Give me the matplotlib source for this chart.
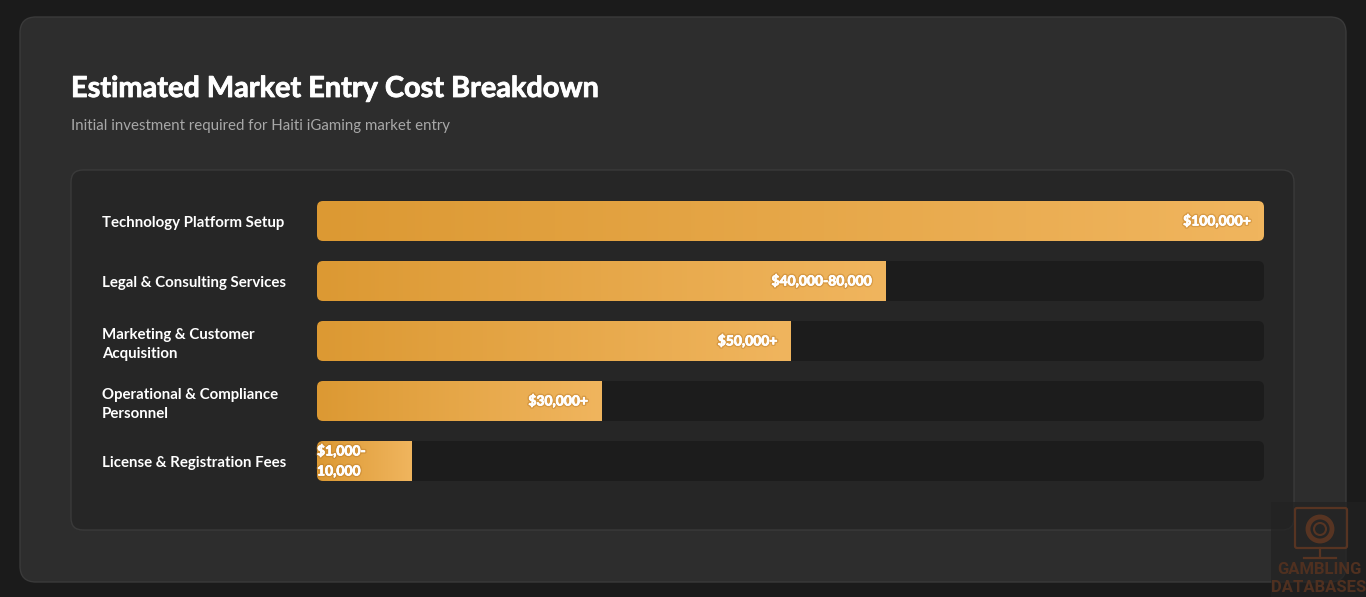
import matplotlib
matplotlib.use('Agg')
import matplotlib.pyplot as plt
import matplotlib.patheffects as pe
from matplotlib.patches import FancyBboxPatch
from matplotlib.colors import LinearSegmentedColormap
import numpy as np

# 数据
categories = [
    'Technology Platform Setup',
    'Legal & Consulting Services',
    'Marketing & Customer\nAcquisition',
    'Operational & Compliance\nPersonnel',
    'License & Registration Fees',
]
widths = [100, 60, 50, 30, 10]  # 条形宽度 (%)
value_labels = ['$100,000+', '$40,000-80,000', '$50,000+', '$30,000+', '$1,000-10,000']

title = 'Estimated Market Entry Cost Breakdown'
subtitle = 'Initial investment required for Haiti iGaming market entry'

W, H = 1366, 597
FONT = ['Lato', 'DejaVu Sans']
plt.rcParams['font.family'] = FONT

fig = plt.figure(figsize=(W / 100, H / 100), dpi=100)
fig.patch.set_facecolor('#1b1b1b')

# 背景层（像素坐标）
bg = fig.add_axes([0, 0, 1, 1], zorder=0)
bg.set_xlim(0, W)
bg.set_ylim(H, 0)
bg.axis('off')

bg.add_patch(FancyBboxPatch((20, 17), 1326, 565, boxstyle='round,pad=0,rounding_size=16',
                            facecolor='#2d2d2d', edgecolor='#3a3a3a', linewidth=1))
bg.add_patch(FancyBboxPatch((71, 170), 1223, 360, boxstyle='round,pad=0,rounding_size=12',
                            facecolor='#262626', edgecolor='#3a3a3a', linewidth=1))

bg.text(71, 89, title, color='white', fontsize=20.8, fontweight='bold', va='center', ha='left',
        path_effects=[pe.withStroke(linewidth=0.6, foreground='white')])
bg.text(71, 126, subtitle, color='#a8a8a8', fontsize=10.8, va='center', ha='left')

# 水印
bg.add_patch(plt.Rectangle((1271, 502), 95, 95, facecolor='#222222', alpha=0.7, zorder=1))
wm = '#573422'
bg.add_patch(FancyBboxPatch((1295, 508), 52, 40, boxstyle='round,pad=0,rounding_size=2',
                            facecolor='none', edgecolor=wm, linewidth=1.6, zorder=2))
bg.add_patch(plt.Circle((1320, 529), 12, facecolor='none', edgecolor=wm, linewidth=3.5, zorder=2))
bg.add_patch(plt.Circle((1320, 529), 6, facecolor='none', edgecolor=wm, linewidth=1.5, zorder=2))
bg.plot([1320, 1320], [548, 557], color=wm, lw=1.6, zorder=2)
bg.plot([1304, 1336], [558, 558], color=wm, lw=1.6, zorder=2)
bg.text(1319, 570, 'GAMBLING', color='#4f3020', fontsize=12, fontweight='bold', ha='center',
        va='center', family=['Roboto', 'DejaVu Sans'], zorder=2)
bg.text(1319, 588, 'DATABASES', color='#4f3020', fontsize=12, fontweight='bold', ha='center',
        va='center', family=['Roboto', 'DejaVu Sans'], zorder=2)

# 条形图坐标轴
left, right = 317, 1264
top, bottom = 191, 491
ax = fig.add_axes([left / W, (H - bottom) / H, (right - left) / W, (bottom - top) / H], zorder=1)
ax.set_facecolor('none')
for s in ax.spines.values():
    s.set_visible(False)
ax.set_xticks([])
ax.set_yticks(range(len(categories)))
ax.set_yticklabels(categories, color='white', fontsize=10.8, fontweight='bold', ha='left',
                   linespacing=1.4)
ax.tick_params(axis='y', length=0, pad=(left - 102) * 0.72)

bar_h = 40 / 60
px_x = (right - left) / 100.0  # 每单位像素
px_y = 60.0
rs = 6 / px_x
aspect = px_x / px_y

cmap = LinearSegmentedColormap.from_list('gold', ['#dc9933', '#f0b55e'])
grad = np.linspace(0, 1, 256).reshape(1, -1)

tracks = ax.barh(range(len(categories)), [100] * len(categories), height=bar_h,
                 color='none', edgecolor='none', linewidth=0)
for i, (rect, w) in enumerate(zip(tracks, widths)):
    x0, y0 = rect.get_x(), rect.get_y()
    track = FancyBboxPatch((x0, y0), rect.get_width(), rect.get_height(),
                           boxstyle=f'round,pad=0,rounding_size={rs}', mutation_aspect=aspect,
                           facecolor='#1c1c1c', edgecolor='none', zorder=1)
    ax.add_patch(track)
    img = ax.imshow(grad, cmap=cmap, aspect='auto', extent=(0, w, y0 + rect.get_height(), y0),
                    zorder=2, interpolation='bicubic')
    img.set_clip_path(track)

    lab = value_labels[i]
    shadow = [pe.withStroke(linewidth=2.5, foreground='#b07020', alpha=0.35),
              pe.withStroke(linewidth=0.5, foreground='white')]
    if w < 15:
        lab = lab.replace('-', '-\n', 1)
        ax.text(0, i, lab, color='white', fontsize=10, fontweight='bold', ha='left', va='center',
                linespacing=1.8, zorder=3, path_effects=shadow)
    else:
        ax.annotate(lab, (w, i), xytext=(-13, 0), textcoords='offset pixels', color='white',
                    fontsize=10, fontweight='bold', ha='right', va='center', zorder=3,
                    path_effects=shadow)
ax.set_xlim(0, 100)
ax.set_ylim(len(categories) - 0.5, -0.5)

fig.savefig('out.png', dpi=100, facecolor=fig.get_facecolor())
